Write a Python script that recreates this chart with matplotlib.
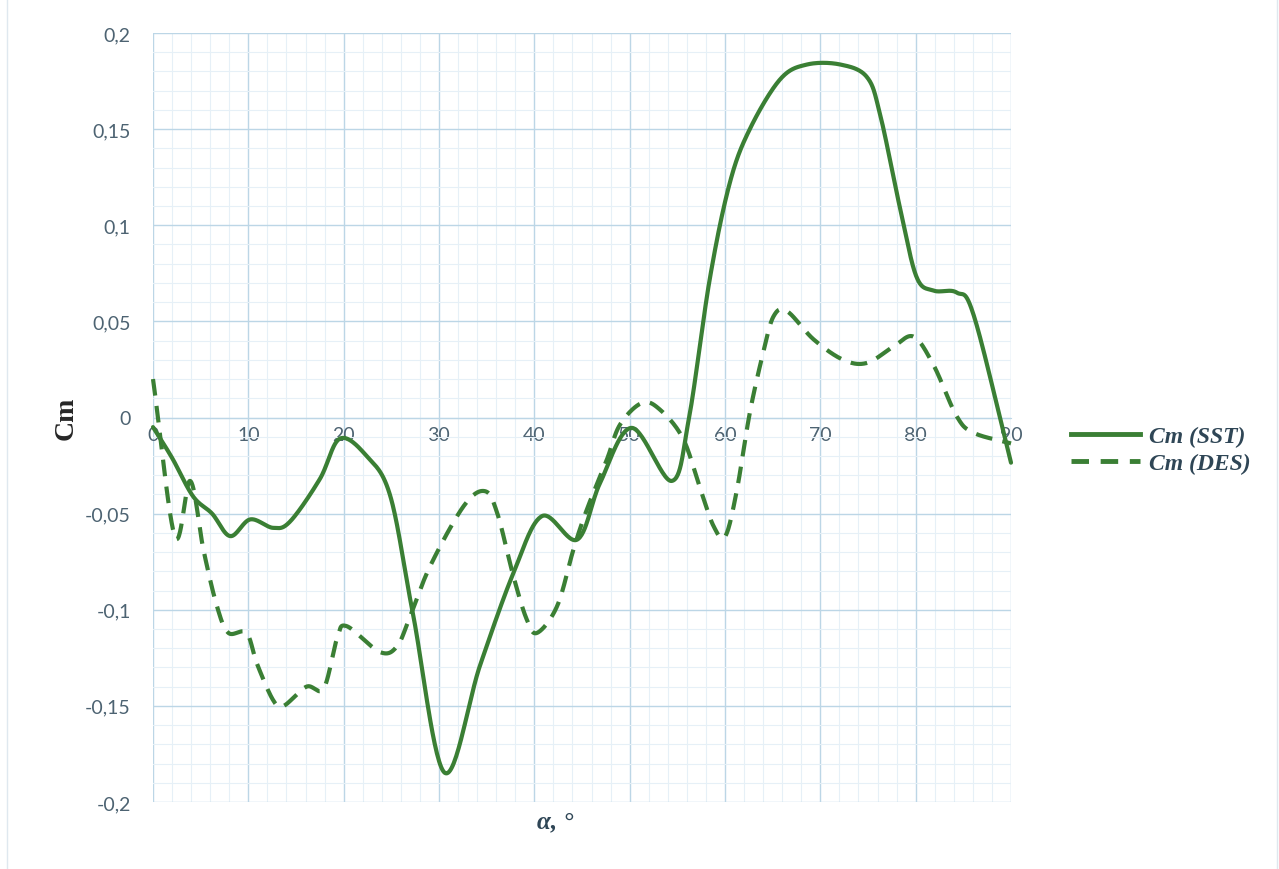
import numpy as np
import matplotlib
matplotlib.use("Agg")
import matplotlib.pyplot as plt
from matplotlib.ticker import MultipleLocator, FuncFormatter
from matplotlib.lines import Line2D

# ---- data ----
sst_alpha = [0, 2, 4.2, 6.2, 8.1, 10.2, 12.6, 14.4, 17.5, 19.6, 22.4, 24.9, 27.3,
             30.6, 34.3, 37.8, 40.8, 44.5, 46.9, 50.2, 54.4, 56.2, 58.4, 60.5,
             62.6, 65.8, 68.6, 72.1, 74.9, 76.3, 78.4, 80.1, 81.9, 84.3, 86.1, 90]
sst_cm = [-0.005, -0.021, -0.041, -0.050, -0.0617, -0.053, -0.0574, -0.054, -0.032,
          -0.011, -0.020, -0.041, -0.103, -0.1848, -0.129, -0.081, -0.0513, -0.0635,
          -0.034, -0.0054, -0.033, -0.001, 0.072, 0.122, 0.150, 0.176, 0.1836, 0.1836,
          0.177, 0.157, 0.108, 0.0730, 0.066, 0.065, 0.053, -0.0235]

des_alpha = [0, 2.3, 3.9, 5.3, 6.7, 7.9, 9.8, 10.9, 12.6, 13.7, 16.1, 17.9, 19.3,
             20.3, 23.8, 25.6, 27.0, 29.1, 32.6, 34.8, 36.1, 37.8, 39.2, 40.3, 42.4,
             44.1, 45.5, 47.6, 49.0, 51.3, 53.2, 55.6, 57.4, 58.8, 60.0, 61.2, 62.6,
             64.0, 65.1, 66.5, 69.3, 72.4, 74.9, 77.7, 79.8, 81.9, 84.3, 86.1, 90]
des_cm = [0.020, -0.062, -0.033, -0.069, -0.098, -0.112, -0.112, -0.128, -0.147,
          -0.150, -0.140, -0.141, -0.115, -0.1085, -0.122, -0.119, -0.103, -0.077,
          -0.046, -0.0383, -0.0496, -0.0825, -0.105, -0.112, -0.098, -0.0687, -0.048,
          -0.022, -0.0036, 0.0076, 0.004, -0.011, -0.037, -0.0565, -0.062, -0.039,
          0.0024, 0.0336, 0.0527, 0.0553, 0.0406, 0.030, 0.0284, 0.037, 0.042, 0.027,
          0.0007, -0.008, -0.0135]

x_ticks = [0, 10, 20, 30, 40, 50, 60, 70, 80, 90]
y_ticks = [-0.2, -0.15, -0.1, -0.05, 0, 0.05, 0.1, 0.15, 0.2]
series_labels = ["Cm (SST)", "Cm (DES)"]
x_label = "α, °"
y_label = "Cm"


def smooth(xs, ys, n=30):
    """Catmull-Rom smoothing, similar to a spreadsheet 'smoothed line'."""
    p = np.column_stack([xs, ys]).astype(float)
    p = np.vstack([2 * p[0] - p[1], p, 2 * p[-1] - p[-2]])
    out = []
    t = np.linspace(0, 1, n, endpoint=False)[:, None]
    for i in range(1, len(p) - 2):
        p0, p1, p2, p3 = p[i - 1], p[i], p[i + 1], p[i + 2]
        seg = 0.5 * ((2 * p1) + (-p0 + p2) * t + (2 * p0 - 5 * p1 + 4 * p2 - p3) * t ** 2
                     + (-p0 + 3 * p1 - 3 * p2 + p3) * t ** 3)
        out.append(seg)
    out.append(p[-2][None, :])
    out = np.vstack(out)
    return out[:, 0], out[:, 1]


green = "#3a7f34"
tick_color = "#4d6372"
major_grid = "#bcd6e6"
minor_grid = "#e6f0f7"

fig = plt.figure(figsize=(12.79, 8.70), dpi=100)
ax = fig.add_axes([153 / 1279, 1 - 803 / 870, (1011 - 153) / 1279, (803 - 34) / 870])

ax.set_xlim(0, 90)
ax.set_ylim(-0.2, 0.2)
ax.xaxis.set_major_locator(MultipleLocator(10))
ax.xaxis.set_minor_locator(MultipleLocator(2))
ax.yaxis.set_major_locator(MultipleLocator(0.05))
ax.yaxis.set_minor_locator(MultipleLocator(0.01))
ax.grid(which="major", color=major_grid, linewidth=1.0)
ax.grid(which="minor", color=minor_grid, linewidth=0.8)
ax.set_axisbelow(True)

for s in ["top", "right", "left"]:
    ax.spines[s].set_visible(False)
ax.spines["bottom"].set_position(("data", 0))
ax.spines["bottom"].set_color(major_grid)
ax.spines["bottom"].set_zorder(0.5)

ax.set_xticks(x_ticks)
ax.set_yticks(y_ticks)
ax.tick_params(axis="both", which="both", length=0, colors=tick_color, labelsize=14)
ax.tick_params(axis="x", pad=6)
ax.tick_params(axis="y", pad=16)
for lab in ax.get_xticklabels() + ax.get_yticklabels():
    lab.set_fontfamily("Lato")


def comma_fmt(v, pos):
    if abs(v) < 1e-9:
        return "0"
    s = ("%.2f" % v).rstrip("0").rstrip(".")
    return s.replace(".", ",")


ax.yaxis.set_major_formatter(FuncFormatter(comma_fmt))

xs, ys = smooth(sst_alpha, sst_cm)
ax.plot(xs, ys, color=green, linewidth=3.0, solid_capstyle="round", zorder=3,
        clip_on=False)
xd, yd = smooth(des_alpha, des_cm)
ax.plot(xd, yd, color=green, linewidth=3.0, dashes=(4.0, 2.5), dash_capstyle="butt",
        zorder=3, clip_on=False)

fig.text(66 / 1279, 1 - 418 / 870, y_label, rotation=90, ha="center", va="center",
         fontsize=20, fontweight="bold", family="Liberation Serif", color="#262626")
fig.text(555 / 1279, 1 - 822 / 870, x_label, ha="center", va="center",
         fontsize=18, fontweight="bold", fontstyle="italic", family="Liberation Serif",
         color="#2f4656")

handles = [Line2D([], [], color=green, linewidth=3.5),
           Line2D([], [], color=green, linewidth=3.5, dashes=(3.6, 2.4))]
leg = fig.legend(handles, series_labels, loc="center left",
                 bbox_to_anchor=(1050 / 1279, 1 - 451 / 870), frameon=False,
                 handlelength=2.9, handletextpad=0.4, labelspacing=0.25,
                 prop={"family": "Liberation Serif", "weight": "bold",
                       "style": "italic", "size": 17})
for t in leg.get_texts():
    t.set_color("#2f4656")

# chart outer border (left/right edges)
fig.add_artist(Line2D([7 / 1279, 7 / 1279], [0, 1], color="#dfe8ef", linewidth=1.0))
fig.add_artist(Line2D([1277 / 1279, 1277 / 1279], [0, 1], color="#dfe8ef", linewidth=1.0))

fig.savefig("out.png", dpi=100)
